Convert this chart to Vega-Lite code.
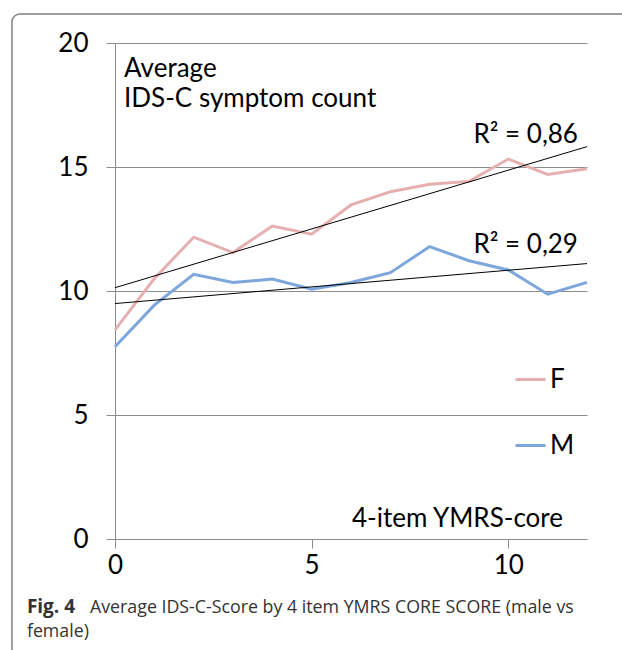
{
  "$schema": "https://vega.github.io/schema/vega-lite/v6.json",
  "width": 472,
  "height": 496,
  "autosize": {"type": "none"},
  "padding": {"left": 115, "top": 43, "right": 35, "bottom": 111},
  "background": "white",
  "config": {
    "view": {"stroke": null},
    "font": "Lato",
    "axis": {"labelFont": "Lato", "labelFontSize": 26, "labelColor": "#000000", "domainColor": "#8c8c8c", "tickColor": "#8c8c8c", "gridColor": "#8c8c8c", "domainWidth": 1, "tickWidth": 1, "gridWidth": 1, "title": null}
  },
  "datasets": {
    "series": [
      {"score": 0, "sex": "F", "ids": 8.43}, {"score": 1, "sex": "F", "ids": 10.5}, {"score": 2, "sex": "F", "ids": 12.17},
      {"score": 3, "sex": "F", "ids": 11.55}, {"score": 4, "sex": "F", "ids": 12.62}, {"score": 5, "sex": "F", "ids": 12.29},
      {"score": 6, "sex": "F", "ids": 13.47}, {"score": 7, "sex": "F", "ids": 14.0}, {"score": 8, "sex": "F", "ids": 14.3},
      {"score": 9, "sex": "F", "ids": 14.42}, {"score": 10, "sex": "F", "ids": 15.32}, {"score": 11, "sex": "F", "ids": 14.7},
      {"score": 12, "sex": "F", "ids": 14.93},
      {"score": 0, "sex": "M", "ids": 7.75}, {"score": 1, "sex": "M", "ids": 9.43}, {"score": 2, "sex": "M", "ids": 10.67},
      {"score": 3, "sex": "M", "ids": 10.34}, {"score": 4, "sex": "M", "ids": 10.48}, {"score": 5, "sex": "M", "ids": 10.07},
      {"score": 6, "sex": "M", "ids": 10.34}, {"score": 7, "sex": "M", "ids": 10.74}, {"score": 8, "sex": "M", "ids": 11.79},
      {"score": 9, "sex": "M", "ids": 11.22}, {"score": 10, "sex": "M", "ids": 10.85}, {"score": 11, "sex": "M", "ids": 9.87},
      {"score": 12, "sex": "M", "ids": 10.35}
    ]
  },
  "layer": [
    {
      "data": {"values": [{"k": "frame"}]},
      "mark": {"type": "rect", "clip": false, "fill": null, "stroke": "#808080", "strokeWidth": 1.5, "cornerRadius": 8},
      "encoding": {
        "x": {"datum": -2.62, "type": "quantitative", "scale": {"domain": [0, 12]}},
        "x2": {"datum": 14.5},
        "y": {"datum": 21.17, "type": "quantitative", "scale": {"domain": [0, 20]}},
        "y2": {"datum": -7}
      }
    },
    {
      "data": {"name": "series"},
      "mark": {"type": "line", "strokeWidth": 3, "clip": false},
      "encoding": {
        "x": {"field": "score", "type": "quantitative", "scale": {"domain": [0, 12], "nice": false},
          "axis": {"values": [0, 5, 10], "tickSize": 9, "labelPadding": 4, "grid": false, "labelFlush": false}},
        "y": {"field": "ids", "type": "quantitative", "scale": {"domain": [0, 20], "nice": false},
          "axis": {"values": [0, 5, 10, 15, 20], "tickSize": 9, "labelPadding": 18, "grid": true}},
        "color": {"field": "sex", "type": "nominal", "scale": {"domain": ["F", "M"], "range": ["#e6b0b0", "#7ca6dc"]},
          "legend": {"title": null, "orient": "none", "legendX": 399, "legendY": 320, "symbolType": "stroke", "symbolSize": 900, "symbolStrokeWidth": 3,
            "labelFontSize": 26, "labelFont": "Lato", "labelColor": "#000000", "labelOffset": 3, "rowPadding": 36, "symbolOffset": 0, "padding": 0}}
      }
    },
    {
      "data": {"name": "series"},
      "transform": [{"regression": "ids", "on": "score", "groupby": ["sex"], "extent": [0, 12]}],
      "mark": {"type": "line", "color": "#000000", "strokeWidth": 1},
      "encoding": {
        "x": {"field": "score", "type": "quantitative"},
        "y": {"field": "ids", "type": "quantitative"},
        "detail": {"field": "sex"}
      }
    },
    {
      "data": {"values": [{"t": "Average"}]},
      "mark": {"type": "text", "align": "left", "baseline": "alphabetic", "fontSize": 26, "font": "Lato", "color": "#000000"},
      "encoding": {"x": {"datum": 0.23}, "y": {"datum": 18.63}, "text": {"field": "t"}}
    },
    {
      "data": {"values": [{"t": "IDS-C symptom count"}]},
      "mark": {"type": "text", "align": "left", "baseline": "alphabetic", "fontSize": 26, "font": "Lato", "color": "#000000"},
      "encoding": {"x": {"datum": 0.23}, "y": {"datum": 17.42}, "text": {"field": "t"}}
    },
    {
      "data": {"values": [{"t": "R² = 0,86"}]},
      "mark": {"type": "text", "align": "right", "baseline": "alphabetic", "fontSize": 26, "font": "Lato", "color": "#000000"},
      "encoding": {"x": {"datum": 11.77}, "y": {"datum": 15.97}, "text": {"field": "t"}}
    },
    {
      "data": {"values": [{"t": "R² = 0,29"}]},
      "mark": {"type": "text", "align": "right", "baseline": "alphabetic", "fontSize": 26, "font": "Lato", "color": "#000000"},
      "encoding": {"x": {"datum": 11.77}, "y": {"datum": 11.53}, "text": {"field": "t"}}
    },
    {
      "data": {"values": [{"t": "4-item YMRS-core"}]},
      "mark": {"type": "text", "align": "right", "baseline": "alphabetic", "fontSize": 26, "font": "Lato", "color": "#000000"},
      "encoding": {"x": {"datum": 11.39}, "y": {"datum": 0.48}, "text": {"field": "t"}}
    },
    {
      "data": {"values": [{"t": "Fig. 4"}]},
      "mark": {"type": "text", "align": "left", "baseline": "alphabetic", "fontSize": 19, "font": "Open Sans", "fontWeight": "bold", "color": "#333333", "clip": false},
      "encoding": {"x": {"datum": -2.24}, "y": {"datum": -2.98}, "text": {"field": "t"}}
    },
    {
      "data": {"values": [{"t": "Average IDS-C-Score by 4 item YMRS CORE SCORE (male vs"}]},
      "mark": {"type": "text", "align": "left", "baseline": "alphabetic", "fontSize": 17.8, "font": "Open Sans", "color": "#333333", "clip": false},
      "encoding": {"x": {"datum": -0.636}, "y": {"datum": -2.98}, "text": {"field": "t"}}
    },
    {
      "data": {"values": [{"t": "female)"}]},
      "mark": {"type": "text", "align": "left", "baseline": "alphabetic", "fontSize": 17.8, "font": "Open Sans", "color": "#333333", "clip": false},
      "encoding": {"x": {"datum": -2.24}, "y": {"datum": -3.95}, "text": {"field": "t"}}
    }
  ]
}
